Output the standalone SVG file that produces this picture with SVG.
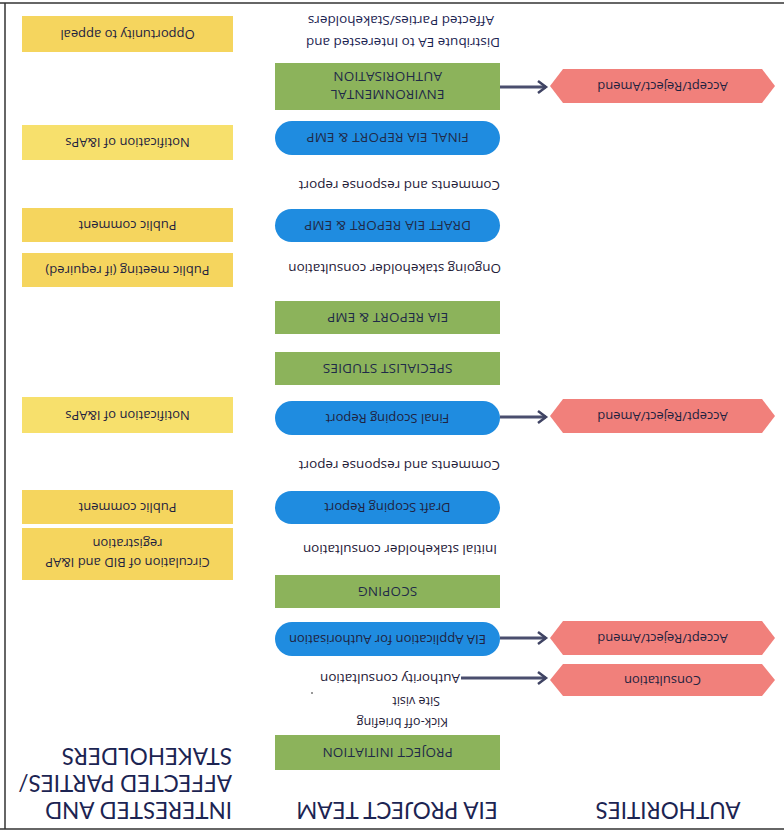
<svg xmlns="http://www.w3.org/2000/svg" width="784" height="835" viewBox="0 0 784 835">
<style>
.hdr{font-family:"Gill Sans","Lato","Open Sans",sans-serif;font-size:22.5px;fill:#1c2452;}
.lbl{font-family:"Open Sans","Lato",sans-serif;font-size:13px;fill:#1f2340;text-anchor:middle;}
.cap{font-family:"Open Sans","Lato",sans-serif;font-size:13.5px;fill:#1f2a48;text-anchor:middle;letter-spacing:0.2px;}
.txt{font-family:"Open Sans","Lato",sans-serif;font-size:13.5px;fill:#1f2038;}
.sm{font-size:12.5px;}
.green{fill:#8cb35b;}
.blue{fill:#1f8ce0;}
.red{fill:#f1807b;}
.yel{fill:#f5d55e;}
.yel2{fill:#f7e06c;}
.conn{stroke:#4a4e6e;stroke-width:3;fill:none;}
.frame{stroke:#333;stroke-width:1.5;fill:none;}
</style>
<defs>
<marker id="ah" markerUnits="userSpaceOnUse" markerWidth="14" markerHeight="16" refX="10" refY="7" orient="auto">
<path d="M2,1 L10,7 L2,13" fill="none" stroke="#3f4363" stroke-width="2.5"/>
</marker>
</defs>
<g transform="rotate(180 392 417.5)">
<g id="frame">
<line class="frame" x1="0" y1="6" x2="784" y2="6"/>
<line class="frame" x1="0" y1="832" x2="784" y2="832"/>
<line class="frame" x1="779" y1="6" x2="779" y2="832"/>
</g>
<g id="headers">
<text class="hdr" x="116" y="33" text-anchor="middle">AUTHORITIES</text>
<text class="hdr" x="387" y="33" text-anchor="middle">EIA PROJECT TEAM</text>
<text class="hdr" x="552" y="33">INTERESTED AND</text>
<text class="hdr" x="552" y="60">AFFECTED PARTIES/</text>
<text class="hdr" x="552" y="87">STAKEHOLDERS</text>
</g>
<g id="connectors">
<line class="conn" x1="323" y1="157" x2="238" y2="157" marker-end="url(#ah)"/>
<line class="conn" x1="284" y1="197" x2="238" y2="197" marker-end="url(#ah)"/>
<line class="conn" x1="284" y1="418" x2="238" y2="418" marker-end="url(#ah)"/>
<line class="conn" x1="284" y1="748" x2="238" y2="748" marker-end="url(#ah)"/>
</g>
<g id="project-initiation"><rect class="green" x="284" y="65" width="225" height="35"/><text class="cap" x="396.5" y="87.5">PROJECT INITIATION</text></g>
<g id="kickoff"><text class="txt sm" x="336" y="117">Kick-off briefing</text></g>
<g id="site-visit"><text class="txt sm" x="344" y="138">Site visit</text><circle cx="472" cy="142" r="1" fill="#777"/></g>
<g id="authority-consultation"><text class="txt" x="324" y="161">Authority consultation</text></g>
<g id="consultation"><polygon class="red" points="9,155 22,139 221,139 234,155 221,171 22,171"/><text class="lbl" x="121.5" y="159.5">Consultation</text></g>
<g id="eia-application"><rect class="blue" x="284" y="179" width="225" height="34" rx="17"/><text class="lbl" x="396.5" y="200.5">EIA Application for Authorisation</text></g>
<g id="accept1"><polygon class="red" points="9,197 22,180 221,180 234,197 221,214 22,214"/><text class="lbl" x="121.5" y="201.5">Accept/Reject/Amend</text></g>
<g id="scoping"><rect class="green" x="284" y="227" width="225" height="33"/><text class="cap" x="396.5" y="248.5">SCOPING</text></g>
<g id="circulation"><rect class="yel" x="551" y="255" width="211" height="52"/><text class="lbl" x="656.5" y="277">Circulation of BID and I&amp;AP</text><text class="lbl" x="656.5" y="296">registration</text></g>
<g id="initial-consultation"><text class="txt" x="287" y="290">Initial stakeholder consultation</text></g>
<g id="draft-scoping"><rect class="blue" x="284" y="311" width="225" height="33" rx="16.5"/><text class="lbl" x="396.5" y="332">Draft Scoping Report</text></g>
<g id="public-comment1"><rect class="yel" x="551" y="311" width="211" height="34"/><text class="lbl" x="656.5" y="332">Public comment</text></g>
<g id="comments1"><text class="txt" x="284" y="374">Comments and response report</text></g>
<g id="final-scoping"><rect class="blue" x="284" y="400" width="225" height="34" rx="17"/><text class="lbl" x="396.5" y="421.5">Final Scoping Report</text></g>
<g id="accept2"><polygon class="red" points="9,419 22,402 221,402 234,419 221,436 22,436"/><text class="lbl" x="121.5" y="423.5">Accept/Reject/Amend</text></g>
<g id="notification1"><rect class="yel2" x="551" y="402" width="211" height="36"/><text class="lbl" x="656.5" y="424.5">Notification of I&amp;APs</text></g>
<g id="specialist"><rect class="green" x="284" y="450" width="225" height="33"/><text class="cap" x="396.5" y="471.5">SPECIALIST STUDIES</text></g>
<g id="eia-report"><rect class="green" x="284" y="501" width="225" height="33"/><text class="cap" x="396.5" y="522.5">EIA REPORT &amp; EMP</text></g>
<g id="public-meeting"><rect class="yel" x="551" y="548" width="211" height="34"/><text class="lbl" x="656.5" y="569.5">Public meeting (if required)</text></g>
<g id="ongoing"><text class="txt" x="283" y="571">Ongoing stakeholder consultation</text></g>
<g id="draft-eia"><rect class="blue" x="284" y="593" width="225" height="33" rx="16.5"/><text class="cap" x="396.5" y="614.5">DRAFT EIA REPORT &amp; EMP</text></g>
<g id="public-comment2"><rect class="yel" x="551" y="593" width="211" height="34"/><text class="lbl" x="656.5" y="614.5">Public comment</text></g>
<g id="comments2"><text class="txt" x="284" y="654">Comments and response report</text></g>
<g id="final-eia"><rect class="blue" x="284" y="680" width="225" height="34" rx="17"/><text class="cap" x="396.5" y="702">FINAL EIA REPORT &amp; EMP</text></g>
<g id="notification2"><rect class="yel2" x="551" y="675" width="211" height="35"/><text class="lbl" x="656.5" y="697">Notification of I&amp;APs</text></g>
<g id="env-auth"><rect class="green" x="284" y="725" width="225" height="47"/><text class="cap" x="396.5" y="745">ENVIRONMENTAL</text><text class="cap" x="396.5" y="763">AUTHORISATION</text></g>
<g id="accept3"><polygon class="red" points="9,749 22,732 221,732 234,749 221,766 22,766"/><text class="lbl" x="121.5" y="753.5">Accept/Reject/Amend</text></g>
<g id="distribute"><text class="txt" x="284" y="797" style="fill:#1c2452">Distribute EA to Interested and</text><text class="txt" x="290" y="819" style="fill:#1c2452">Affected Parties/Stakeholders</text></g>
<g id="opportunity"><rect class="yel" x="551" y="783" width="211" height="36"/><text class="lbl" x="656.5" y="805.5">Opportunity to appeal</text></g>
</g>
</svg>
